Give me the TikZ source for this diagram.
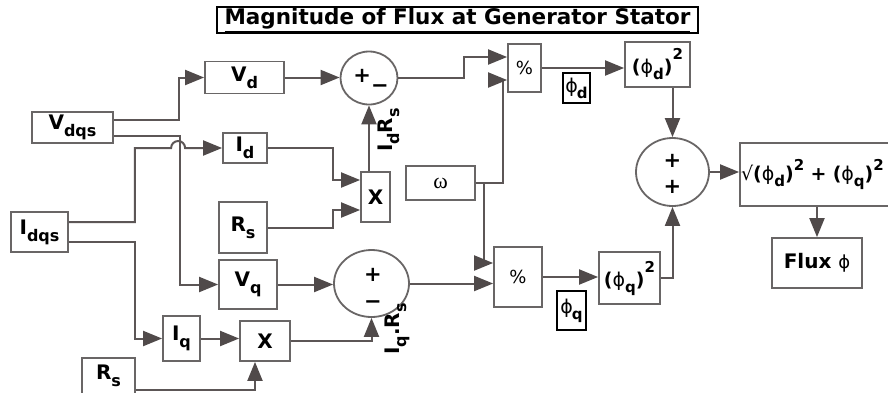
\documentclass[tikz,border=0pt]{standalone}
\usepackage{fontspec}
\setmainfont{DejaVu Sans}
\newfontfamily\serifw{Liberation Serif}
\usetikzlibrary{arrows.meta,shapes.geometric,calc}
\definecolor{linec}{RGB}{92,86,86}
\definecolor{bordc}{RGB}{105,102,102}
\definecolor{headc}{RGB}{80,74,74}
\newcommand{\sbs}[1]{\raisebox{-7pt}{\fontsize{16}{16}\selectfont #1}}
\newcommand{\sbx}[1]{\raisebox{-6pt}{\fontsize{15}{15}\selectfont #1}}
\newcommand{\sps}[1]{\raisebox{10pt}{\fontsize{15}{15}\selectfont #1}}
\begin{document}
\begin{tikzpicture}[x=1pt,y=-1pt,
  blk/.style={draw=bordc, line width=1.8pt, inner sep=0pt, font=\bfseries\fontsize{20}{20}\selectfont},
  sumc/.style={ellipse, draw=bordc, line width=1.8pt, inner sep=0pt},
  sgn/.style={inner sep=0pt, font=\bfseries\fontsize{21}{21}\selectfont},
  lbl/.style={draw=black, line width=2pt, inner sep=0pt, font=\fontsize{19}{19}\selectfont},
  rlab/.style={inner sep=0pt, rotate=90, font=\bfseries\fontsize{20}{20}\selectfont},
  arr/.style={draw=linec, line width=2pt, -{Triangle[length=19pt,width=15pt,color=headc]}}]
\useasboundingbox (0,0) rectangle (888,392);
\fill[white] (0,0) rectangle (888,392);

% title
\node[draw=black,line width=2pt,inner sep=0pt,minimum width=481pt,minimum height=26pt,
  font=\bfseries\fontsize{21.5}{21.5}\selectfont] (title) at (457.5,20) {\underline{Magnitude of Flux at Generator Stator}};

% blocks
\node[blk,minimum width=81pt,minimum height=31pt] (Vdqs) at (72.5,127.5) {V\sbs{dqs}};
\node[blk,minimum width=57pt,minimum height=40pt] (Idqs) at (39.5,232) {I\sbs{dqs}};
\node[blk,minimum width=79pt,minimum height=32pt] (Vd) at (244.5,77.5) {V\sbs{d}};
\node[blk,minimum width=44pt,minimum height=30pt] (Id) at (245,148) {I\sbs{d}};
\node[blk,minimum width=48pt,minimum height=51pt] (Rs1) at (243,227.5) {R\sbs{s}};
\node[blk,minimum width=58pt,minimum height=49pt] (Vq) at (248,284.5) {V\sbs{q}};
\node[blk,minimum width=37pt,minimum height=45pt] (Iq) at (181.5,338.5) {I\sbs{q}};
\node[blk,minimum width=50pt,minimum height=40pt] (X2) at (265,341) {X};
\node[blk,minimum width=53pt,minimum height=36pt] (Rs2) at (108.5,376) {R\sbs{s}};
\node[blk,minimum width=29pt,minimum height=50pt] (X1) at (375.5,197) {X};
\node[blk,minimum width=69pt,minimum height=34pt,font=\serifw\fontsize{22}{22}\selectfont] (omega) at (440.5,183) {ω};
\node[blk,minimum width=33pt,minimum height=48pt,font=\fontsize{18}{18}\selectfont] (pct1) at (524.5,68) {\%};
\node[blk,minimum width=48pt,minimum height=60pt,font=\fontsize{18}{18}\selectfont] (pct2) at (518,277) {\%};
\node[blk,minimum width=65pt,minimum height=45pt,font=\bfseries\fontsize{19}{19}\selectfont] (sqd) at (657.5,64.5) {({\mdseries ϕ}\sbx{d})\raisebox{14pt}{\fontsize{15}{15}\selectfont 2}};
\node[blk,minimum width=61pt,minimum height=52pt,font=\bfseries\fontsize{19}{19}\selectfont] (sqq) at (629.5,278) {({\mdseries ϕ}\sbx{q})\raisebox{14pt}{\fontsize{15}{15}\selectfont 2}};
\node[lbl,minimum width=27pt,minimum height=30pt] (phid) at (576.5,88) {ϕ\kern-1pt\sbx{\bfseries d}};
\node[lbl,minimum width=29pt,minimum height=39pt] (phiq) at (571.5,310.5) {ϕ\kern-1pt\sbx{\bfseries q}};
\node[blk,minimum width=160pt,minimum height=63pt,text width=158pt,inner xsep=1pt,align=left,
  font=\bfseries\fontsize{19}{19}\selectfont] (sqrtb) at (820,174.5)
  {{\mdseries √}({\mdseries ϕ}\sbx{d})\sps{2} + ({\mdseries ϕ}\sbx{q})\sps{2}};
\node[blk,minimum width=90pt,minimum height=50pt,font=\bfseries\fontsize{20}{20}\selectfont] (flux) at (817,263) {Flux {\mdseries\fontsize{18}{18}\selectfont ϕ}};

% summing junctions
\node[sumc,minimum width=57pt,minimum height=53pt] (sum1) at (369,78) {};
\node[sgn] (s1t) at (371,81) {+\raisebox{-10pt}{−}};
\node[sumc,minimum width=73pt,minimum height=68pt] (sum2) at (672.5,172) {};
\node[sgn] (s2a) at (672.5,161) {+};
\node[sgn] (s2b) at (672.5,187) {+};
\node[sumc,minimum width=75pt,minimum height=67pt] (sum3) at (371.5,283.5) {};
\node[sgn] (s3a) at (373,275) {+};
\node[sgn] (s3b) at (373,305) {−};

% rotated labels
\node[rlab] (lab1) at (389,130) {I\sbs{d}R\sbs{s}};
\node[rlab] (lab2) at (397,329) {I\sbs{q}.R\sbs{s}};

% connectors
\draw[arr] ([yshift=8pt]Vdqs.east) -- ++(65,0) |- (Vd.west);
\draw[arr] ([yshift=-8pt]Vdqs.east) -- ++(66,0) |- (Vq.west);
\draw[arr] ([yshift=10pt]Idqs.east) -- ++(66,0) |- ([xshift=-51pt]Id.west)
  arc[start angle=180,end angle=0,radius=7pt] -- (Id.west);
\draw[arr] ([yshift=-10pt]Idqs.east) -- ++(66,0) |- (Iq.west);
\draw[arr] (Id.east) -- ++(65,0) |- ([yshift=17pt]X1.west);
\draw[arr] (Rs1.east) -- ++(65,0) |- ([yshift=-13pt]X1.west);
\draw[arr] (sum1.south |- X1.north) -- (sum1.south);
\draw[arr] (Vd.east) -- (Vd.east -| sum1.west);
\draw[arr] (sum1.east) -- ++(66,0) |- ([yshift=11pt]pct1.west);
\draw[arr] (omega.east) -- ++(27,0) |- ([yshift=-12pt]pct1.west);
\draw[arr] (omega.east) -- ++(8,0) |- ([yshift=14pt]pct2.west);
\draw[arr] (Vq.east) -- (Vq.east -| sum3.west);
\draw[arr] (sum3.east) -- (sum3.east -| pct2.west);
\draw[arr] (pct1.east) -- (pct1.east -| sqd.west);
\draw[arr] (sum2.north |- sqd.south) -- (sum2.north);
\draw[arr] (pct2.east) -- (pct2.east -| sqq.west);
\draw[arr] (sqq.east) -| (sum2.south);
\draw[arr] (sum2.east) -- (sum2.east -| sqrtb.west);
\draw[arr] (flux.north |- sqrtb.south) -- (flux.north);
\draw[arr] (Iq.east) -- (Iq.east -| X2.west);
\draw[arr] (X2.east) -| (sum3.south);
\draw[arr] ([yshift=5pt]Rs2.south east) -| ([xshift=-10pt]X2.south);
\end{tikzpicture}
\end{document}
